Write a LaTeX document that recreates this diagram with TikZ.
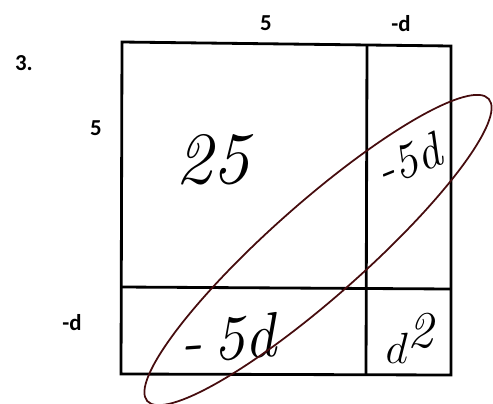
\documentclass[tikz,border=0pt]{standalone}
\usepackage{fontspec}
\setsansfont{Carlito}
\usepackage{tikz}

\definecolor{loopred}{RGB}{70,12,14}

\tikzset{
  side/.style={font=\sffamily\bfseries\fontsize{13}{13}\selectfont},
  hand/.style={font=\fontsize{36}{36}\selectfont\itshape},
}

\begin{document}
\begin{tikzpicture}[x=0.02cm, y=-0.02cm]
  \useasboundingbox (0,0) rectangle (493,403);

  % Khung ngoài
  \draw[line width=1.6pt, line join=miter] (122,42) -- (451,46) -- (451,375) -- (121,374) -- cycle;

  % Đường chia
  \draw[line width=1.6pt] (367,46) -- (366,374);
  \draw[line width=1.6pt] (122,287) -- (451,289);

  % Nhãn cạnh
  \node[side] (num) at (24,63) {3.};
  \node[side] (top5) at (266,23) {5};
  \node[side] (topd) at (401,24) {-d};
  \node[side] (left5) at (96,128) {5};
  \node[side] (leftd) at (72,323) {-d};

  % Các ô
  \node[hand, font=\fontsize{42}{42}\selectfont\itshape] (sq) at (212,160) {25};
  \node[hand, font=\fontsize{28}{28}\selectfont\itshape, rotate=22, inner sep=0pt] (tr) at (408,160) {-5d};
  \node[hand, rotate=4] (bl) at (228,338) {-\,5d};
  \node[hand, font=\fontsize{42}{42}\selectfont\itshape] (br) at (410,338) {$d^{\mathit{2}}$};

  % Vòng elip
  \draw[loopred, line width=1pt, shift={(318,250)}, rotate=41.5] (0,0) ellipse [x radius=228, y radius=47];
\end{tikzpicture}
\end{document}
